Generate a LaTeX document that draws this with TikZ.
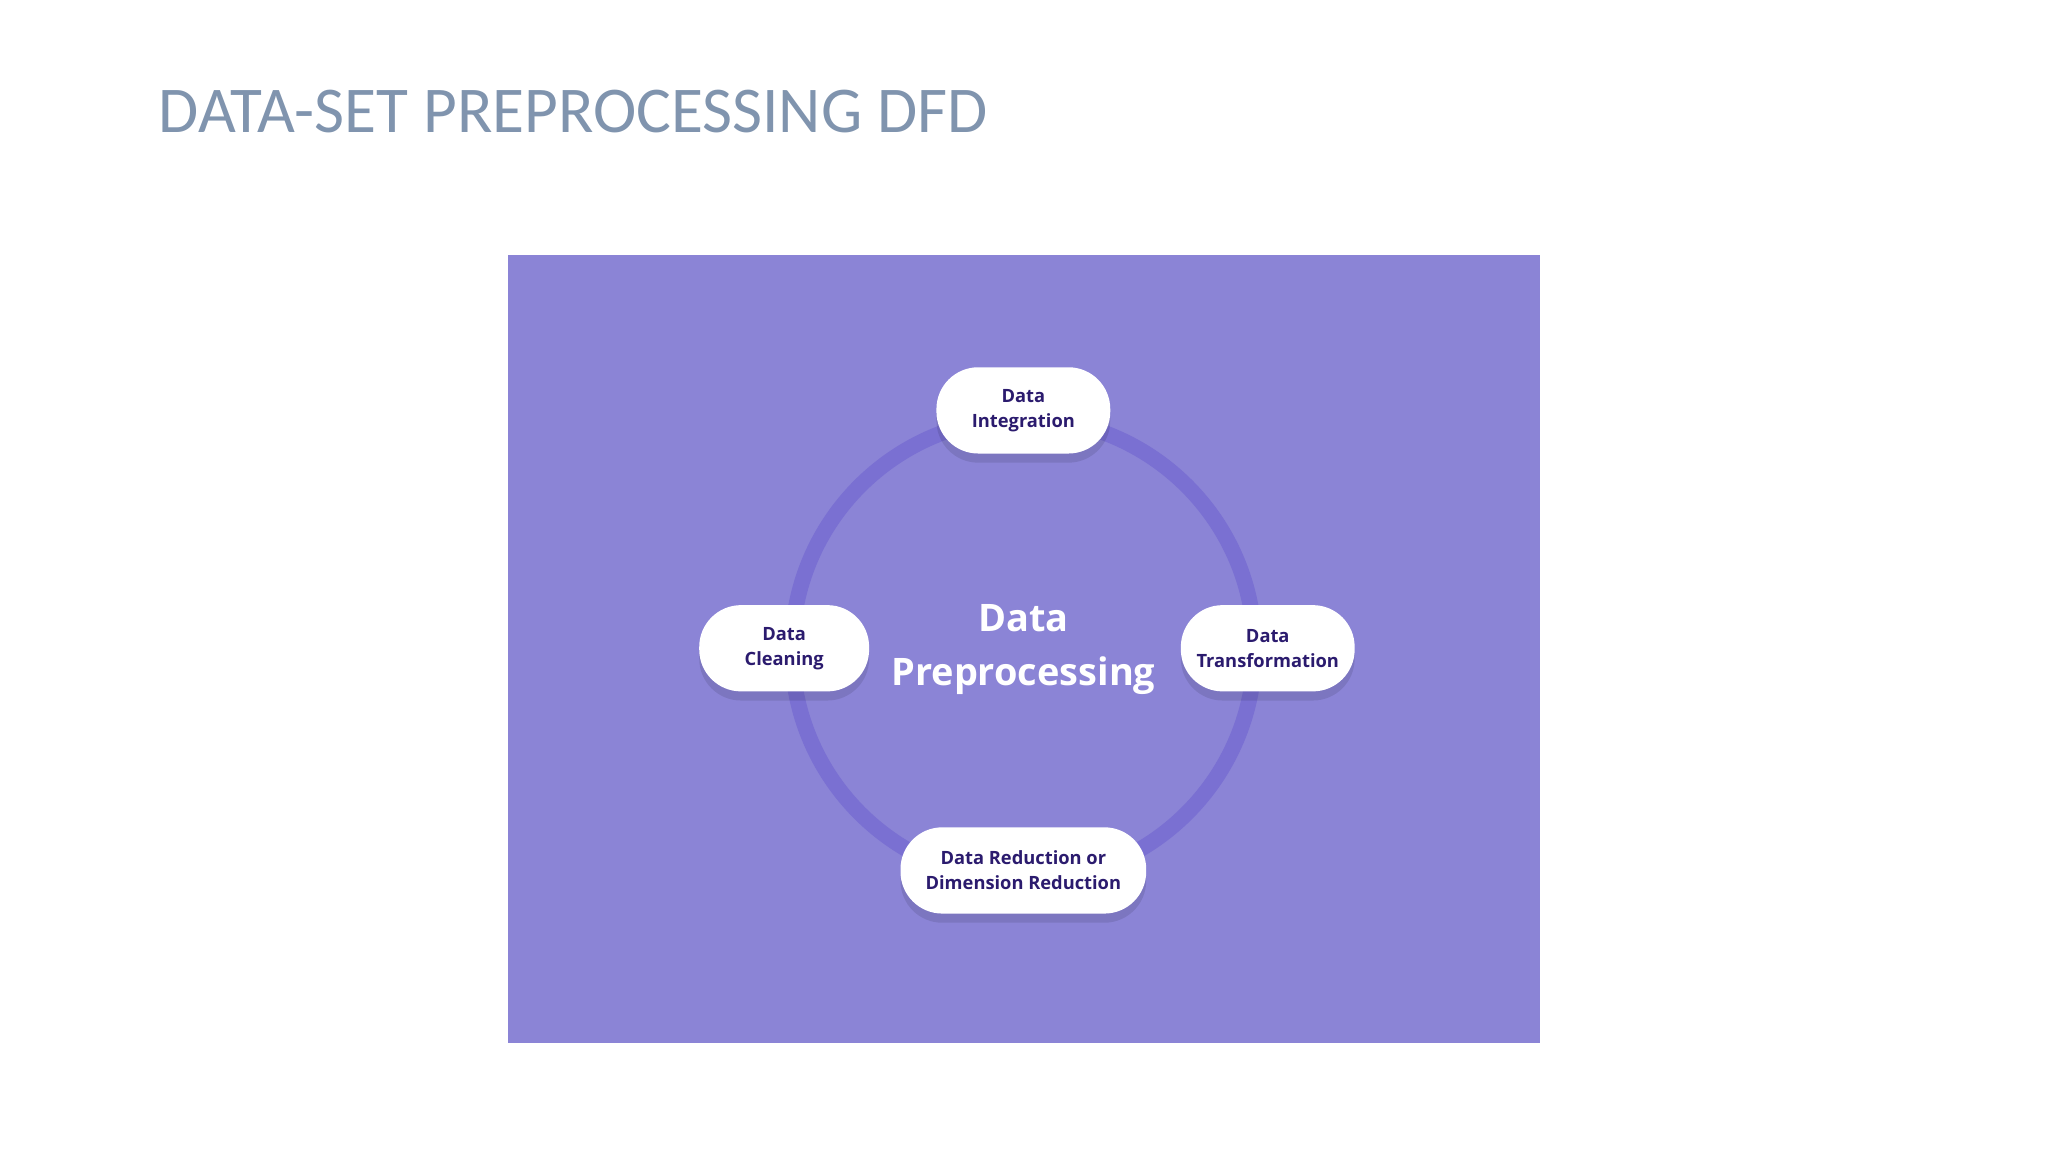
\documentclass[tikz,border=0pt]{standalone}
\usepackage{fontspec}
\setmainfont{Carlito}
\newfontfamily\nodefont{Open Sans}
\usetikzlibrary{shadows}
\definecolor{titlecol}{HTML}{8094AE}
\definecolor{bgpurple}{HTML}{8B84D6}
\definecolor{ringcol}{HTML}{7A70D2}
\definecolor{navy}{HTML}{2B1B6E}
\tikzset{
  stagebox/.style={draw=none, fill=white, rounded corners=32pt, minimum height=66pt,
    align=center, font=\nodefont\bfseries\fontsize{14}{19}\selectfont, text=navy,
    drop shadow={shadow xshift=0pt, shadow yshift=-7pt, opacity=0.10, fill=black}}
}
\begin{document}
\begin{tikzpicture}[x=1pt,y=-1pt]
\useasboundingbox (0,0) rectangle (1567,881.5);
\node[anchor=west, text=titlecol, font=\fontsize{50}{60}\selectfont] (title) at (118,85) {DATA-SET PREPROCESSING DFD};
\fill[bgpurple] (389,195) rectangle (1178,798);
\coordinate (c) at (783,497);
\draw[ringcol, line width=12pt] (c) circle[radius=177];
\node[text=white, font=\nodefont\bfseries\fontsize{29}{41}\selectfont, align=center] (center) at (783,497) {Data\\Preprocessing};
\node[stagebox, minimum width=133pt] (integ) at (783,314) {Data\\Integration};
\node[stagebox, minimum width=130pt] (clean) at (600,496) {Data\\Cleaning};
\node[stagebox, minimum width=133pt] (trans) at (970,496) {Data\\Transformation};
\node[stagebox, minimum width=188pt] (reduc) at (783,666) {Data Reduction or\\Dimension Reduction};
\end{tikzpicture}
\end{document}
